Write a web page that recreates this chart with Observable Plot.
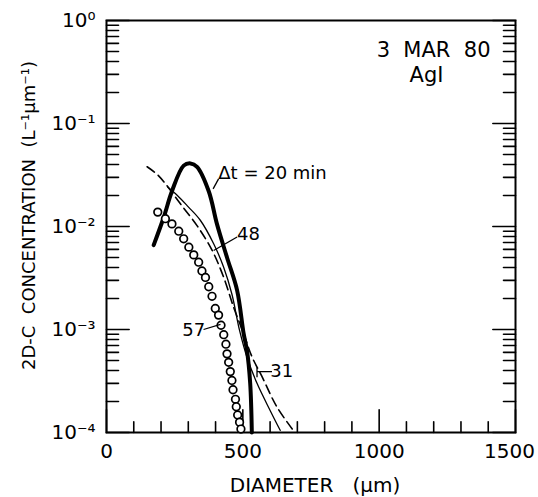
<!DOCTYPE html>
<html><head><meta charset="utf-8">
<script src="https://cdn.jsdelivr.net/npm/d3@7"></script>
<script src="https://cdn.jsdelivr.net/npm/@observablehq/plot@0.6"></script>
<style>body{margin:0;background:#fff} #chart svg{font-family:"DejaVu Sans",sans-serif;color:#000}</style>
</head><body><div id="chart"></div>
<script>
// Δt = 20 min (thick solid)
const dt20X = [173, 210, 240, 283, 308, 332, 375, 405, 442, 479, 503, 515, 527, 533];
const dt20Y = [0.0066, 0.0123, 0.022, 0.039, 0.041, 0.038, 0.022, 0.0106, 0.005, 0.0024, 0.00091, 0.00063, 0.0003, 0.0001];
// 48 min (thin solid)
const dt48X = [225, 260, 300, 344, 393, 430, 460, 488, 515, 552, 601, 637];
const dt48Y = [0.024, 0.020, 0.0155, 0.0115, 0.0068, 0.0040, 0.0022, 0.00098, 0.00054, 0.00030, 0.000162, 0.000105];
// 31 min (dashed)
const dt31X = [149, 186, 216, 271, 332, 387, 430, 466, 503, 534, 570, 625, 686];
const dt31Y = [0.038, 0.032, 0.026, 0.0166, 0.0102, 0.0059, 0.0032, 0.00165, 0.00091, 0.00054, 0.00035, 0.000177, 0.000104];
// 57 min (open circles)
const dt57X = [188, 216, 240, 265, 283, 302, 320, 338, 350, 363, 375, 387, 399, 411, 420, 430, 438, 442, 448, 454, 460, 464, 473, 476, 481, 488, 493];
const dt57Y = [0.0138, 0.0119, 0.0106, 0.0090, 0.0076, 0.0063, 0.0053, 0.0045, 0.0037, 0.0032, 0.0026, 0.0021, 0.0016, 0.00138, 0.00110, 0.00089, 0.00072, 0.00058, 0.00048, 0.00039, 0.00032, 0.00026, 0.00021, 0.000178, 0.000148, 0.000126, 0.000108];

// axis ticks and labels
const xTickValues = [0, 500, 1000, 1500];
const xMinorTicks = [0,100,200,300,400,500,600,700,800,900,1000,1100,1200,1300,1400,1500];
const yTickValues = [1, 0.1, 0.01, 0.001, 0.0001];
const yTickLabels = ["10⁰", "10⁻¹", "10⁻²", "10⁻³", "10⁻⁴"];
const yMinorTicks = [];
for (const p of [-4, -3, -2, -1]) for (const k of [1,2,3,4,5,6,7,8,9]) yMinorTicks.push(+(k * Math.pow(10, p)).toPrecision(3));
yMinorTicks.push(1);

// annotations (data coordinates)
const labelTexts = ["Δt = 20 min", "48", "57", "31"];
const labelX = [410, 521, 320, 643];
const labelY = [0.033, 0.0085, 0.00098, 0.00039];
const leaderX1 = [391, 393, 356, 552, 552];
const leaderY1 = [0.0232, 0.00585, 0.0010, 0.00039, 0.00043];
const leaderX2 = [411, 479, 418, 607, 552];
const leaderY2 = [0.029, 0.0079, 0.00112, 0.00039, 0.000344];

const zip = (xs, ys) => xs.map((x, i) => ({x, y: ys[i]}));
const s20 = zip(dt20X, dt20Y), s48 = zip(dt48X, dt48Y), s31 = zip(dt31X, dt31Y), s57 = zip(dt57X, dt57Y);
const labels = labelTexts.map((t, i) => ({t, x: labelX[i], y: labelY[i]}));
const leaders = leaderX1.map((x1, i) => ({x1, y1: leaderY1[i], x2: leaderX2[i], y2: leaderY2[i]}));
const isMajorX = v => xTickValues.includes(v);
const isMajorY = v => yTickValues.includes(v);
const tickShape = {draw(context, l) { context.moveTo(0, 0); context.lineTo(0, -l); }};

const chart = Plot.plot({
  width: 538, height: 497,
  marginLeft: 106, marginRight: 23, marginTop: 20, marginBottom: 65,
  style: {background: "#fff", color: "#000", fontFamily: "DejaVu Sans"},
  x: {domain: [0, 1500], axis: null},
  y: {type: "log", domain: [1e-4, 1]},
  marks: [
    Plot.frame({stroke: "#000", strokeWidth: 2}),
    // inward ticks
    Plot.vector(xMinorTicks, {x: d => d, y: 1e-4, length: d => isMajorX(d) ? 17 : 8, rotate: 0, anchor: "start", shape: tickShape, stroke: "#000", strokeWidth: 1.6}),
    Plot.vector(yMinorTicks, {x: 0, y: d => d, length: d => isMajorY(d) ? 17 : 9, rotate: 90, anchor: "start", shape: tickShape, stroke: "#000", strokeWidth: 1.6}),
    Plot.vector(yMinorTicks, {x: 1500, y: d => d, length: d => isMajorY(d) ? 17 : 9, rotate: -90, anchor: "start", shape: tickShape, stroke: "#000", strokeWidth: 1.6}),
    // x tick labels
    Plot.text(xTickValues.slice(0, 3), {x: d => d, frameAnchor: "bottom", lineAnchor: "middle", textAnchor: "middle", dy: 19, fontSize: 20, fill: "#000", text: d => String(d)}),
    Plot.text(xTickValues.slice(3), {x: d => d, frameAnchor: "bottom", lineAnchor: "middle", textAnchor: "middle", dy: 19, dx: -6, fontSize: 20, fill: "#000", text: d => String(d)}),
    Plot.axisY({ticks: yTickValues, tickSize: 0, tickPadding: 11, fontSize: 20, label: null, tickFormat: d => yTickLabels[yTickValues.indexOf(d)]}),
    Plot.text(["DIAMETER   (μm)"], {frameAnchor: "bottom", lineAnchor: "middle", textAnchor: "middle", dx: 4, dy: 53, fontSize: 20, fill: "#000", letterSpacing: 1}),
    Plot.text(["2D-C  CONCENTRATION  (L⁻¹μm⁻¹)"], {frameAnchor: "left", lineAnchor: "middle", textAnchor: "middle", dx: -77, dy: -11, rotate: -90, fontSize: 18, fill: "#000", letterSpacing: 2}),
    Plot.text(["3  MAR  80"], {frameAnchor: "top-right", lineAnchor: "middle", textAnchor: "end", dx: -25, dy: 30, fontSize: 21, fill: "#000", letterSpacing: 2}),
    Plot.text(["AgI"], {frameAnchor: "top-right", lineAnchor: "middle", textAnchor: "middle", dx: -89, dy: 55, fontSize: 21, fill: "#000", letterSpacing: 1}),
    // curves
    Plot.line(s31, {x: "x", y: "y", stroke: "#000", strokeWidth: 1.6, strokeDasharray: "9,5", curve: "catmull-rom"}),
    Plot.line(s48, {x: "x", y: "y", stroke: "#000", strokeWidth: 1.3, curve: "catmull-rom"}),
    Plot.line(s20, {x: "x", y: "y", stroke: "#000", strokeWidth: 4, curve: "catmull-rom"}),
    Plot.dot(s57, {x: "x", y: "y", r: 3.8, fill: "#fff", stroke: "#000", strokeWidth: 1.7}),
    // annotations
    Plot.link(leaders, {x1: "x1", y1: "y1", x2: "x2", y2: "y2", stroke: "#000", strokeWidth: 1.3}),
    Plot.text(labels.slice(0, 1), {x: "x", y: "y", text: "t", textAnchor: "start", fontSize: 18, fill: "#000"}),
    Plot.text(labels.slice(1), {x: "x", y: "y", text: "t", textAnchor: "middle", fontSize: 18, fill: "#000"})
  ]
});
document.getElementById("chart").appendChild(chart);
</script>
</body></html>
